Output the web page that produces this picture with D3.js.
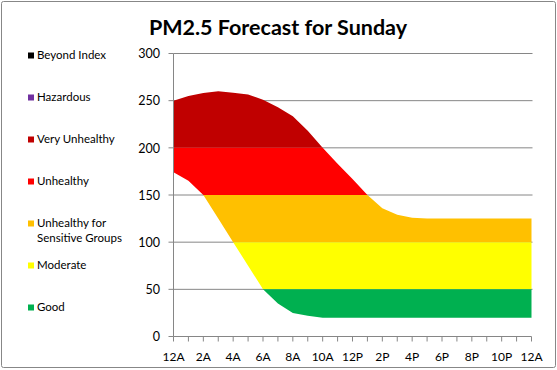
<!DOCTYPE html>
<html><head><meta charset="utf-8">
<script src="https://cdn.jsdelivr.net/npm/d3@7"></script>
<style>body{margin:0;background:#fff}svg{display:block}</style>
</head><body>
<script>
const hours = d3.range(0, 25);
const xTickLabels = ["12A","2A","4A","6A","8A","10A","12P","2P","4P","6P","8P","10P","12A"];
const upperValues = [250,255,258,260,258.5,256.5,251,243,233.5,218,200,183,167,150,136,129,126,125,125,125,125,125,125,125,125];
const lowerValues = [174,165,150,125,100,75,50,35,25,22,20,20,20,20,20,20,20,20,20,20,20,20,20,20,20];
const yTicks = [0,50,100,150,200,250,300];
const categories = ["Beyond Index","Hazardous","Very Unhealthy","Unhealthy","Unhealthy for Sensitive Groups","Moderate","Good"];
const catColors = ["#000000","#7030A0","#C00000","#FF0000","#FFC000","#FFFF00","#00B050"];
const catLow  = [500,300,200,150,100,50,0];
const catHigh = [1000,500,300,200,150,100,50];

const W = 557, H = 370;
const svg = d3.select("body").append("svg").attr("width", W).attr("height", H);
const font = "Lato, 'Open Sans', sans-serif";

svg.append("rect").attr("x",1.5).attr("y",1.5).attr("width",W-3).attr("height",H-4)
  .attr("fill","#fff").attr("stroke","#878787").attr("stroke-width",1).attr("rx",2);

const x = d3.scaleLinear().domain([0,24]).range([173.5,531.5]);
const y = d3.scaleLinear().domain([0,300]).range([336.5,53.5]);

// gridlines
svg.append("g").selectAll("line").data(yTicks.filter(d=>d>0)).join("line")
  .attr("x1",x(0)).attr("x2",x(24)+1).attr("y1",d=>y(d)).attr("y2",d=>y(d))
  .attr("stroke","#868686").attr("stroke-width",1);

// bands
const data = hours.map((h,i)=>({h, lo: lowerValues[i], hi: upperValues[i]}));
const area = d3.area().x(d=>x(d.h)).y0(d=>y(d.lo)).y1(d=>y(d.hi));
const defs = svg.append("defs");
categories.forEach((c,i)=>{
  const top = Math.min(catHigh[i], 300), bot = catLow[i];
  if (bot >= 300) return;
  defs.append("clipPath").attr("id","clip"+i).append("rect")
    .attr("x",x(0)).attr("width",x(24)-x(0)+1)
    .attr("y",y(top)).attr("height",y(bot)-y(top));
  svg.append("path").datum(data).attr("d",area).attr("fill",catColors[i])
    .attr("clip-path","url(#clip"+i+")");
});

// y axis
const gy = svg.append("g");
gy.append("line").attr("x1",x(0)).attr("x2",x(0)).attr("y1",y(300)).attr("y2",y(0)).attr("stroke","#868686");
gy.selectAll("line.t").data(yTicks).join("line").attr("class","t")
  .attr("x1",x(0)-5).attr("x2",x(0)).attr("y1",d=>y(d)).attr("y2",d=>y(d)).attr("stroke","#868686");
gy.selectAll("text").data(yTicks).join("text")
  .attr("x",160).attr("y",d=>y(d)+1.5).attr("text-anchor","end").attr("dominant-baseline","middle")
  .attr("font-family",font).attr("font-size",12.5).attr("fill","#000").text(d=>d);

// x axis
const gx = svg.append("g");
gx.append("line").attr("x1",x(0)).attr("x2",x(24)).attr("y1",y(0)).attr("y2",y(0)).attr("stroke","#868686");
gx.selectAll("line.t").data(hours).join("line").attr("class","t")
  .attr("x1",d=>x(d)).attr("x2",d=>x(d)).attr("y1",y(0)).attr("y2",y(0)+5).attr("stroke","#868686");
gx.selectAll("text").data(xTickLabels).join("text")
  .attr("x",(d,i)=>x(i*2)).attr("y",358).attr("text-anchor","middle").attr("dominant-baseline","middle")
  .attr("font-family",font).attr("font-size",12).attr("fill","#000").text(d=>d);

// title
svg.append("text").attr("x",278).attr("y",35).attr("text-anchor","middle")
  .attr("font-family",font).attr("font-weight","bold").attr("font-size",21.5).attr("fill","#000")
  .text("PM2.5 Forecast for Sunday");

// legend
const legY = [55,97,139,181,223,265,307];
const lg = svg.append("g");
categories.forEach((c,i)=>{
  lg.append("rect").attr("x",28).attr("y",legY[i]-2.5).attr("width",6).attr("height",6).attr("fill",catColors[i]);
  const t = lg.append("text").attr("x",37).attr("y",legY[i]+1).attr("dominant-baseline","middle")
    .attr("font-family",font).attr("font-size",11.5).attr("fill","#000");
  if (c === "Unhealthy for Sensitive Groups") {
    t.append("tspan").attr("x",37).text("Unhealthy for");
    t.append("tspan").attr("x",37).attr("dy",15).text("Sensitive Groups");
  } else t.text(c);
});
</script>
</body></html>
